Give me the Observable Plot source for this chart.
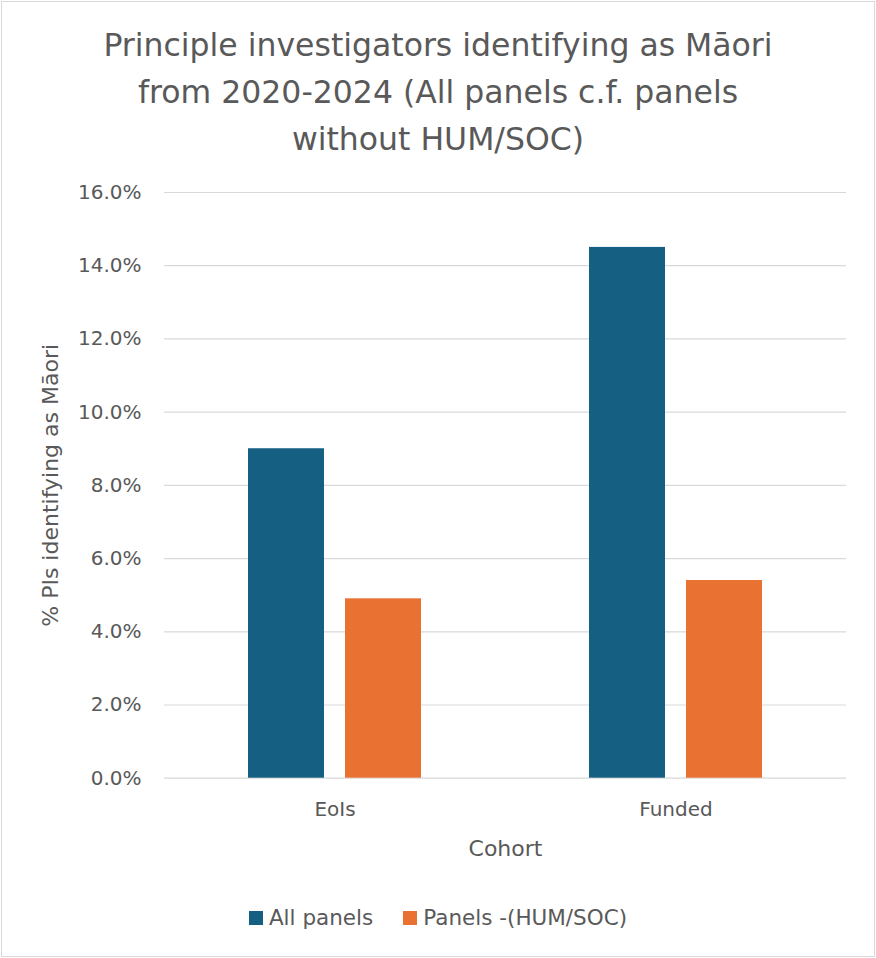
<!DOCTYPE html>
<html>
<head>
<meta charset="utf-8">
<script src="https://cdn.jsdelivr.net/npm/d3@7"></script>
<script src="https://cdn.jsdelivr.net/npm/@observablehq/plot@0.6"></script>
<style>
  html, body { margin: 0; padding: 0; background: #fff; }
  body { width: 876px; height: 958px; position: relative; overflow: hidden; font-family: "DejaVu Sans", sans-serif; color: #595959; }
  #frame { position: absolute; left: 1px; top: 1px; width: 874px; height: 956px; box-sizing: border-box; border: 1px solid #d9d9d9; }
  #title { position: absolute; left: 0; top: 22px; width: 876px; text-align: center; font-size: 31.5px; line-height: 47px; color: #595959; }
  #chart { position: absolute; left: 0; top: 170px; }
  #legend { position: absolute; left: 0; top: 905px; width: 876px; display: flex; justify-content: center; gap: 30px; font-size: 21.5px; color: #595959; }
  .item { display: flex; align-items: center; gap: 6px; }
  .sw { width: 14px; height: 14px; display: inline-block; }
  g[aria-label="y-axis label"] text, g[aria-label="fx-axis label"] text { font-size: 22px; }
</style>
</head>
<body>
<div id="frame"></div>
<div id="title">Principle investigators identifying as Māori<br>from 2020-2024 (All panels c.f. panels<br>without HUM/SOC)</div>
<div id="chart"></div>
<div id="legend"></div>
<script>
const categories = ["EoIs", "Funded"];
const series = ["All panels", "Panels -(HUM/SOC)"];
const allPanels = [0.090, 0.145];
const panelsNoHumSoc = [0.049, 0.054];
const yTicks = [0, 0.02, 0.04, 0.06, 0.08, 0.10, 0.12, 0.14, 0.16];
const colors = ["#156082", "#E97132"];

const data = [];
categories.forEach((c, i) => {
  data.push({category: c, series: series[0], value: allPanels[i]});
  data.push({category: c, series: series[1], value: panelsNoHumSoc[i]});
});

const chart = Plot.plot({
  width: 876,
  height: 700,
  marginTop: 22,
  marginBottom: 92.3,
  marginLeft: 163,
  marginRight: 30,
  style: {fontFamily: "DejaVu Sans", fontSize: "20px", color: "#595959", background: "transparent", overflow: "visible"},
  fx: {domain: categories, padding: 0},
  x: {domain: series, paddingInner: 0.214, paddingOuter: 0.85, axis: null},
  y: {domain: [0, 0.16]},
  color: {domain: series, range: colors},
  marks: [
    Plot.ruleY(yTicks, {stroke: "#d9d9d9", strokeWidth: 1.2}),
    Plot.barY(data, {fx: "category", x: "series", y: "value", fill: "series"}),
    Plot.axisY({ticks: yTicks, tickFormat: d3.format(".1%"), tickSize: 0, tickPadding: 23, fontSize: 20,
      label: "% PIs identifying as Māori", labelAnchor: "center", labelOffset: 122, labelArrow: "none"}),
    Plot.axisFx({anchor: "bottom", tickSize: 0, tickPadding: 24, fontSize: 20, label: "Cohort", labelAnchor: "center", labelOffset: 78, labelArrow: "none"})
  ]
});
document.getElementById("chart").appendChild(chart);

const legend = document.getElementById("legend");
series.forEach((s, i) => {
  const it = document.createElement("div");
  it.className = "item";
  const sw = document.createElement("span");
  sw.className = "sw";
  sw.style.background = colors[i];
  const tx = document.createElement("span");
  tx.textContent = s;
  it.appendChild(sw);
  it.appendChild(tx);
  legend.appendChild(it);
});
</script>
</body>
</html>
